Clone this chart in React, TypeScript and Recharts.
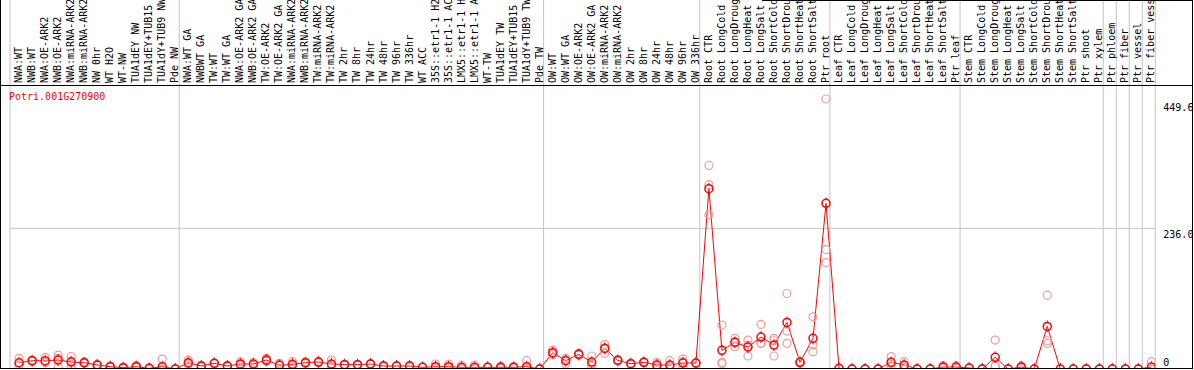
import { ComposedChart, Line, Scatter, XAxis, YAxis, ReferenceLine } from "recharts";

const labels = [
  "NWA:WT", "NWB:WT", "NWA:OE-ARK2", "NWB:OE-ARK2", "NWA:miRNA-ARK2", "NWB:miRNA-ARK2", "NW 0hr", "WT H2O", "WT-NW",
  "TUA1dEY NW", "TUA1dEY+TUB15", "TUA1dY+TUB9 NW", "Pde NW",
  "NWA:WT GA", "NWBWT GA", "TW:WT", "TW:WT GA", "NWA:OE-ARK2 GA", "NWB:OE-ARK2 GA", "TW:OE-ARK2", "TW:OE-ARK2 GA",
  "NWA:miRNA-ARK2", "NWB:miRNA-ARK2", "TW:miRNA-ARK2", "TW:miRNA-ARK2", "TW 2hr", "TW 8hr", "TW 24hr", "TW 48hr",
  "TW 96hr", "TW 336hr", "WT ACC", "35S::etr1-1 H2O", "35S::etr1-1 ACC", "LMX5::etr1-1 H2O", "LMX5::etr1-1 ACC",
  "WT-TW", "TUA1dEY TW", "TUA1dEY+TUB15 TW", "TUA1dY+TUB9 TW", "Pde TW",
  "OW:WT", "OW:WT GA", "OW:OE-ARK2", "OW:OE-ARK2 GA", "OW:miRNA-ARK2", "OW:miRNA-ARK2", "OW 2hr", "OW 8hr", "OW 24hr",
  "OW 48hr", "OW 96hr", "OW 336hr",
  "Root CTR", "Root LongCold", "Root LongDrought", "Root LongHeat", "Root LongSalt", "Root ShortCold",
  "Root ShortDrought", "Root ShortHeat", "Root ShortSalt", "Ptr root",
  "Leaf CTR", "Leaf LongCold", "Leaf LongDrought", "Leaf LongHeat", "Leaf LongSalt", "Leaf ShortCold",
  "Leaf ShortDrought", "Leaf ShortHeat", "Leaf ShortSalt", "Ptr leaf",
  "Stem CTR", "Stem LongCold", "Stem LongDrought", "Stem LongHeat", "Stem LongSalt", "Stem ShortCold",
  "Stem ShortDrought", "Stem ShortHeat", "Stem ShortSalt", "Ptr shoot", "Ptr xylem",
  "Ptr phloem", "Ptr fiber", "Ptr vessel", "Ptr fiber vessel",
];

// size of each tissue / experiment block, left to right
const groupSizes = [13, 28, 12, 10, 10, 11, 1, 1, 1, 1];

const meanValues = [
  10.5, 13.9, 13.9, 15, 11.7, 10.5, 6.7, 3.9, 2.2, 3.9, 1.1, 3.9, 0,
  10.5, 5, 9.5, 5, 8.4, 8.4, 15, 6.1, 7.8, 10.5, 11.7, 8.4, 7.3, 7.3, 8.4, 5, 5, 5, 2.8, 3.9, 3.9, 2.8, 2.8, 2.8, 2.8, 2.8, 3.9, 0,
  27.3, 13.9, 24.6, 11.7, 34.6, 14.5, 8.9, 11.2, 6.7, 6.7, 10, 10,
  302.5, 31.3, 44.7, 36.8, 53.6, 40.2, 78.2, 11.2, 51.4, 277.9,
  1.1, 0, 0, 0, 11.2, 6.7, 0, 0, 3.3, 3.3,
  1.7, 0, 19.6, 0, 3.3, 0, 71.5, 0, 0, 0, 0,
  0, 0, 0, 3.3,
];

const rep1 = [
  17.9, 15, 19.6, 23.4, 20.6, 12, 8, 4, 3, 6, 2, 16.7, 0,
  15, 5, 10, 5, 12.3, 11, 17.9, 9.5, 12.3, 12, 12, 15, 8, 8, 9, 5, 5, 6, 3, 8.4, 8.4, 6.7, 6.7, 3, 5, 4, 13.9, 0,
  31.8, 17.9, 26.3, 21.8, 41.3, 15, 9, 12, 11.2, 13.9, 16.7, 10,
  341.5, 73.7, 51.4, 48.5, 74.8, 51.4, 126.7, 10, 87.5, 453,
  1, 0, 0, 0, 20.6, 12.3, 0, 0, 5.6, 5.6,
  2, 0, 48.5, 0, 5.6, 0, 123.9, 0, 0, 0, 0,
  0, 0, 0, 12.3,
];

const rep2 = [
  7, 13.5, 11, 17.9, 1.2, 10, 6, 3, 2, 3, 1, 0, 0,
  9, 4, 9, 6, 7, 8, 14, 1.1, 6, 9, 11, 6, 7, 6.5, 8, 4.5, 5, 4, 2.5, 2, 2, 1, 1, 2.5, 2, 2.5, 0, 0,
  26, 8.4, 24, 8.4, 26.3, 14, 8, 11, 5, 4, 1.2, 10,
  309.2, 11.2, 37.3, 21.8, 43, 21.8, 63.6, 11, 40.2, 200.4,
  1, 0, 0, 0, 5, 5, 0, 0, 3, 3,
  1.5, 0, 5.6, 0, 3, 0, 47.4, 0, 0, 0, 0,
  0, 0, 0, 0,
];

const rep3 = [
  6.6, 13.2, 11.1, 3.7, 13.3, 9.5, 6.1, 4.7, 1.6, 2.7, 0.3, 0, 0,
  7.5, 6, 9.5, 4, 6, 6, 13, 7.7, 5, 10.5, 12, 4.2, 7, 7.4, 8, 5.5, 5, 5, 3, 1.3, 1.3, 0.7, 0.7, 3, 1.4, 2, 0, 0,
  24, 15.4, 23.5, 5, 36, 14.5, 9.7, 10.6, 4, 2.2, 12, 10,
  259, 9, 45.4, 40.1, 43, 47.4, 43, 12.6, 29, 178.6,
  1, 0, 0, 0, 8, 3, 0, 0, 1.3, 1.3,
  1.6, 0, 4.7, 0, 1.3, 0, 43, 0, 0, 0, 0,
  0, 0, 0, 0,
];

const yTicks = [0, 236.0, 449.6];
const geneId = "Potri.001G270900";

const MONO = "DejaVu Sans Mono";
const SHIFT = 0.7; // points sit a bit right of band centre
const Y_MAX = 476.5;
const Y_PAGE_TOP = 620; // value at the very top of the svg (label strip)

const rows = labels.map((name, i) => ({
  idx: i,
  name,
  mean: meanValues[i],
  r1: rep1[i],
  r2: rep2[i],
  r3: rep3[i],
}));

const bounds = groupSizes.reduce((acc, n) => [...acc, acc[acc.length - 1] + n], [0]);
const catTicks = labels.map((_, i) => i);

function CatTick(props: any) {
  const { x, payload } = props;
  const tx = x + 3;
  return (
    <text x={tx} y={83} transform={`rotate(-90 ${tx} 83)`} fontFamily={MONO} fontSize={10} fill="#000">
      {labels[payload.value]}
    </text>
  );
}

function ValTick(props: any) {
  const { x, y, payload } = props;
  const v = payload.value;
  const txt = v === 0 ? "0" : v.toFixed(1);
  return (
    <text x={x} y={y + (v === 0 ? -3 : 9.5)} fontFamily={MONO} fontSize={10} fill="#000">
      {txt}
    </text>
  );
}

function MeanDot(props: any) {
  const { cx, cy } = props;
  if (cx == null || cy == null) return null;
  return (
    <g>
      <circle cx={cx} cy={cy} r={4} fill="none" stroke="#ff0000" strokeWidth={1.5} />
      <line x1={cx} x2={cx} y1={cy - 6} y2={cy - 4} stroke="#ff0000" strokeWidth={1} />
      <line x1={cx} x2={cx} y1={cy + 4} y2={cy + 6} stroke="#ff0000" strokeWidth={1} />
    </g>
  );
}

const repShape = (p: any) => (
  <circle cx={p.cx} cy={p.cy} r={4} fill="none" stroke="#f29a9a" strokeWidth={1.2} />
);

export default function App() {
  return (
    <div style={{ position: "relative", width: 1194, height: 370, overflow: "hidden", background: "#fff" }}>
      <style>{"body{margin:0}"}</style>
      <ComposedChart width={1194} height={370} data={rows} margin={{ top: 0, right: 0, bottom: 1, left: 10 }}>
        <XAxis
          type="number"
          dataKey="idx"
          orientation="top"
          height={85}
          domain={[-SHIFT, 88 - SHIFT]}
          allowDataOverflow
          ticks={catTicks}
          interval={0}
          tick={CatTick}
          tickLine={false}
          axisLine={false}
        />
        <YAxis
          orientation="right"
          type="number"
          width={38.7}
          domain={[0, Y_MAX]}
          allowDataOverflow
          ticks={yTicks}
          interval={0}
          tick={ValTick}
          tickLine={false}
          axisLine={false}
        />
        <ReferenceLine y={236} stroke="#c4c4c4" strokeWidth={1} />
        {bounds.map((b) => (
          <ReferenceLine
            key={b}
            segment={[
              { x: b - SHIFT, y: 0 },
              { x: b - SHIFT, y: Y_PAGE_TOP },
            ]}
            ifOverflow="visible"
            stroke="#c4c4c4"
            strokeWidth={1}
          />
        ))}
        <Scatter dataKey="r1" shape={repShape} isAnimationActive={false} />
        <Scatter dataKey="r2" shape={repShape} isAnimationActive={false} />
        <Scatter dataKey="r3" shape={repShape} isAnimationActive={false} />
        <Line
          type="linear"
          dataKey="mean"
          stroke="#ff0000"
          strokeWidth={1}
          dot={(p: any) => <MeanDot key={p.index} {...p} />}
          activeDot={false}
          isAnimationActive={false}
        />
      </ComposedChart>
      <div
        style={{
          position: "absolute",
          left: 0,
          top: 0,
          width: 1193,
          height: 369,
          boxSizing: "border-box",
          borderLeft: "1px solid #000",
          borderRight: "1px solid #000",
          borderBottom: "1px solid #000",
          pointerEvents: "none",
        }}
      />
      <div style={{ position: "absolute", left: 0, top: 85, width: 1193, height: 1, background: "#000" }} />
      <div style={{ position: "absolute", left: 762, top: 0, width: 431, height: 1, background: "#000" }} />
      <div
        style={{
          position: "absolute",
          left: 9,
          top: 92,
          fontFamily: MONO,
          fontSize: 10,
          lineHeight: "10px",
          color: "#ff0000",
        }}
      >
        {geneId}
      </div>
    </div>
  );
}
